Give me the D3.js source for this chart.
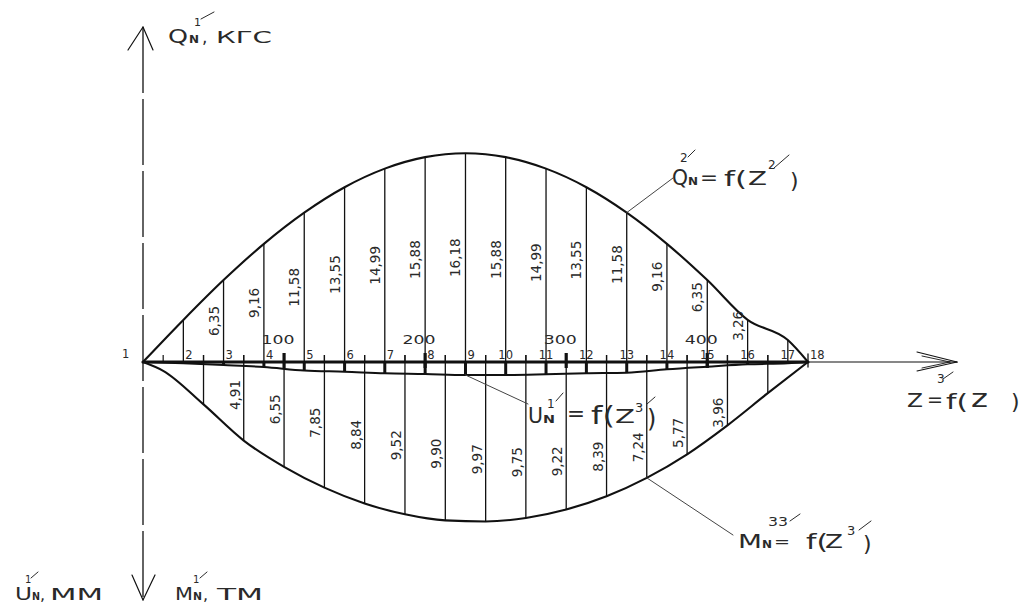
<!DOCTYPE html>
<html><head><meta charset="utf-8">
<script src="https://cdn.jsdelivr.net/npm/d3@7"></script>
<style>
body{margin:0;background:#fff}
svg{display:block}
text{font-family:"DejaVu Sans",sans-serif}
</style>
</head><body>
<svg id="c" width="1023" height="607"></svg>
<script>
// ---------- data ----------
const stationNames = ["1","2","3","4","5","6","7","8","9","10","11","12","13","14","15","16","17","18"];
const stationZ = [0, 28.6, 57.1, 85.7, 114.3, 142.9, 171.4, 200, 228.6, 257.1, 285.7, 314.3, 342.9, 371.4, 400, 428.6, 457.1, 471.4];
const qValues = [0, 3.26, 6.35, 9.16, 11.58, 13.55, 14.99, 15.88, 16.18, 15.88, 14.99, 13.55, 11.58, 9.16, 6.35, 3.26, 1.7, 0];
const qLabels = ["", "", "6,35", "9,16", "11,58", "13,55", "14,99", "15,88", "16,18", "15,88", "14,99", "13,55", "11,58", "9,16", "6,35", "3,26", "", ""];
const uValues = [0, 1.3, 3, 5, 8.5, 9.7, 11.3, 12, 13, 13, 12.3, 11.3, 10.7, 7.3, 4.7, 2.3, 1.3, 0];
const halfZ = [14.3, 42.9, 71.4, 100, 128.6, 157.1, 185.7, 214.3, 242.9, 271.4, 300, 328.6, 357.1, 385.7, 414.3, 442.9];
const mZ = [0, 14.3, 42.9, 71.4, 100, 128.6, 157.1, 185.7, 214.3, 242.9, 271.4, 300, 328.6, 357.1, 385.7, 414.3, 442.9, 471.4];
const mValues = [0, 0.55, 2.65, 4.91, 6.55, 7.85, 8.84, 9.52, 9.90, 9.97, 9.75, 9.22, 8.39, 7.24, 5.77, 3.96, 1.95, 0];
const mLabels = ["", "", "", "4,91", "6,55", "7,85", "8,84", "9,52", "9,90", "9,97", "9,75", "9,22", "8,39", "7,24", "5,77", "3,96", "", ""];
const scaleTicks = [100, 200, 300, 400];

// ---------- scales ----------
const svg = d3.select("#c");
svg.append("rect").attr("width",1023).attr("height",607).attr("fill","#fff");
const x = d3.scaleLinear().domain([0, 471.4]).range([143, 808]);
const yQ = d3.scaleLinear().domain([0, 20]).range([362, 104]);
const yM = d3.scaleLinear().domain([0, 10]).range([362, 522]);
const yU = d3.scaleLinear().domain([0, 13]).range([362, 375]);
const AX = x(0), AY = yQ(0);
const ink = "#111", txtc = "#2a2a2a";

function line(x1,y1,x2,y2,w,c){ return svg.append("line").attr("x1",x1).attr("y1",y1).attr("x2",x2).attr("y2",y2)
  .attr("stroke",c||ink).attr("stroke-width",w||1.2).attr("stroke-linecap","round"); }
function txt(px,py,s,size,opt){ opt=opt||{}; const t=svg.append("text").attr("x",px).attr("y",py)
  .attr("font-size",size).attr("fill",opt.fill||txtc).text(s);
  if(opt.len) t.attr("textLength",opt.len).attr("lengthAdjust","spacingAndGlyphs");
  if(opt.anchor) t.attr("text-anchor",opt.anchor);
  if(opt.weight) t.attr("font-weight",opt.weight);
  return t; }

// ---------- axes ----------
line(AX, 27, AX, 600, 1.3).attr("stroke-dasharray","66,6").attr("stroke-linecap","butt");
line(AX, 27, 128, 50, 1.2); line(AX, 27, 153, 50, 1.2);
line(AX, 600, 132, 575, 1.2); line(AX, 600, 155, 575, 1.2);
line(AX, AY, 957, AY, 1.2);
line(917, 352, 957, AY, 1.1); line(917, 371, 957, AY, 1.1);
line(922, 356, 950, AY, 0.9); line(922, 368, 950, AY, 0.9);
line(AX, AY, x(471.4), AY, 3.2);

// ---------- upper station lines (Q) ----------
const qPts = stationZ.map((z,i)=>[x(z), yQ(qValues[i])]);
svg.selectAll(".qv").data(stationZ.slice(1,17)).enter().append("line")
  .attr("x1",d=>x(d)).attr("x2",d=>x(d)).attr("y1",AY)
  .attr("y2",(d,i)=>yQ(qValues[i+1])).attr("stroke",ink).attr("stroke-width",1.3);

// ---------- lower half-station lines (M) ----------
svg.selectAll(".mv").data(mZ.slice(2,17)).enter().append("line")
  .attr("x1",d=>x(d)).attr("x2",d=>x(d)).attr("y1",AY-7)
  .attr("y2",(d,i)=>yM(mValues[i+2])).attr("stroke",ink).attr("stroke-width",1.3);
svg.selectAll(".mt").data(halfZ).enter().append("line")
  .attr("x1",d=>x(d)).attr("x2",d=>x(d)).attr("y1",AY-7).attr("y2",AY)
  .attr("stroke",ink).attr("stroke-width",1.2);

// ---------- curves ----------
const gen = d3.line().curve(d3.curveMonotoneX);
svg.append("path").attr("d", gen(qPts)).attr("fill","none").attr("stroke",ink).attr("stroke-width",2.1);
const mPts = mZ.map((z,i)=>[x(z), yM(mValues[i])]);
svg.append("path").attr("d", gen(mPts)).attr("fill","none").attr("stroke",ink).attr("stroke-width",2.1);
const uPts = stationZ.map((z,i)=>[x(z), yU(uValues[i])]);
svg.append("path").attr("d", gen(uPts)).attr("fill","none").attr("stroke",ink).attr("stroke-width",2);
svg.selectAll(".ut").data(stationZ.slice(1,17)).enter().append("line")
  .attr("x1",d=>x(d)).attr("x2",d=>x(d)).attr("y1",AY)
  .attr("y2",(d,i)=>yU(uValues[i+1])).attr("stroke",ink).attr("stroke-width",3);
line(x(471.4), AY-8, x(471.4), AY+5, 1.3);

// scale ticks 100..400
scaleTicks.forEach(d=>{
  line(x(d), AY-9, x(d), AY+6, 3.2).attr("stroke-linecap","butt");
  txt(x(d)-6, 344, String(d), 12, {anchor:"middle", len: 33});
});

// station numbers
stationNames.forEach((s,i)=>{
  if(i===0){ txt(x(stationZ[0])-21, 358, s, 11.5); return; }
  if(s.length===1 || s==="18") txt(x(stationZ[i])+2, 359, s, 11.5);
  else txt(x(stationZ[i]), 359, s, 11.5, {anchor:"middle"});
});

// ---------- value labels ----------
const qIdx = qLabels.map((l,i)=>i).filter(i=>qLabels[i]);
qIdx.forEach((i,k)=>{
  const t = k/(qIdx.length-1);
  const frac = 0.5 + Math.max(0, t-0.6)*0.9;
  const px = x(stationZ[i]) - 10, py = yQ(qValues[i]*frac);
  svg.append("text").attr("transform",`translate(${px},${py}) rotate(-90)`)
    .attr("text-anchor","middle").attr("dominant-baseline","central")
    .attr("font-size",13.5).attr("fill",txtc).text(qLabels[i]);
});
const mIdx = mLabels.map((l,i)=>i).filter(i=>mLabels[i]);
mIdx.forEach((i,k)=>{
  const t = k/(mIdx.length-1);
  const frac = 0.42 + 0.38*t;
  const px = x(mZ[i]) - 9, py = yM(mValues[i]*frac);
  svg.append("text").attr("transform",`translate(${px},${py}) rotate(-90)`)
    .attr("text-anchor","middle").attr("dominant-baseline","central")
    .attr("font-size",13.5).attr("fill",txtc).text(mLabels[i]);
});

// ---------- leaders ----------
const lc = "#444";
line(x(stationZ[12]), yQ(qValues[12]), 673, 178, 1, lc);
line(x(stationZ[8]), yU(uValues[8]), 528, 404, 1, lc);
line(x(mZ[13]), yM(mValues[13]), 733, 535, 1, lc);

// ---------- axis titles ----------
txt(168, 43, "Q", 20, {len:20});
txt(189, 43, "N", 10, {len:10, weight:"bold"});
txt(194, 26, "1", 11);
line(201, 19, 214, 12, 1, txtc);
txt(202, 43, ",", 17);
txt(216, 43, "КГС", 16, {len:56});

txt(15, 600, "U", 17, {len:17});
txt(32, 600, "N", 10, {len:8, weight:"bold"});
txt(25, 583, "1", 10);
line(31, 578, 38, 572, 1, txtc);
txt(40, 600, ",", 16);
txt(50, 600, "ММ", 16, {len:53});

txt(175, 600, "M", 17, {len:18});
txt(193, 600, "N", 10, {len:9, weight:"bold"});
txt(193, 583, "1", 10);
line(200, 578, 207, 572, 1, txtc);
txt(203, 600, ",", 16);
txt(217, 600, "ТМ", 16, {len:46});

// Q_N^2' = f(z^2')
txt(672, 185, "Q", 21, {len:16});
txt(688, 185, "N", 10, {len:10, weight:"bold"});
txt(680, 162, "2", 12);
line(688, 157, 695, 150, 1, txtc);
txt(700, 184, "=", 20, {len:18});
txt(724, 186, "f(", 22, {len:23});
txt(748, 185, "Z", 20, {len:19});
txt(768, 169, "2", 12);
line(774, 168, 789, 155, 1, txtc);
txt(790, 188, ")", 22);

// Z^3' = f(z )
txt(907, 407, "Z", 20, {len:16});
txt(937, 383, "3", 12);
line(943, 379, 953, 372, 1, txtc);
txt(927, 406, "=", 20, {len:16});
txt(946, 409, "f(", 22, {len:22});
txt(971, 407, "z", 24, {len:17});
txt(1011, 409, ")", 22);

// U_N^1' = f(z^3')
txt(528, 423, "U", 22, {len:15});
txt(543, 423, "N", 11, {len:12, weight:"bold"});
txt(547, 408, "1", 12);
line(556, 401, 563, 393, 1, txtc);
txt(567, 421, "=", 22, {len:18});
txt(591, 424, "f(", 24, {len:24});
txt(615, 423, "Z", 20, {len:20});
txt(635, 412, "3", 13);
line(647, 404, 655, 397, 1, txtc);
txt(647, 427, ")", 24);

// M_N^33' = f(z^3')
txt(738, 548, "M", 20, {len:24});
txt(762, 548, "N", 10, {len:10, weight:"bold"});
txt(768, 526, "33", 12, {len:20});
line(790, 521, 800, 514, 1, txtc);
txt(774, 547, "=", 16, {len:16});
txt(806, 549, "f(", 22, {len:22});
txt(825, 548, "Z", 20, {len:18});
txt(847, 535, "3", 13);
line(859, 530, 871, 521, 1, txtc);
txt(863, 551, ")", 22);
</script>
</body></html>
